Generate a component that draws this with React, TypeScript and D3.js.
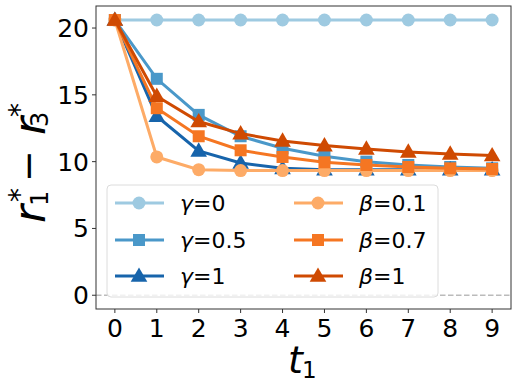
import React from 'react';
import * as d3 from 'd3';

const steps = [0, 1, 2, 3, 4, 5, 6, 7, 8, 9];
const gamma0 = [20.6, 20.6, 20.6, 20.6, 20.6, 20.6, 20.6, 20.6, 20.6, 20.6];
const gamma05 = [20.6, 16.2, 13.5, 11.9, 11.0, 10.4, 10.0, 9.75, 9.6, 9.5];
const gamma1 = [20.6, 13.4, 10.8, 9.9, 9.5, 9.4, 9.4, 9.4, 9.4, 9.4];
const beta01 = [20.6, 10.35, 9.4, 9.33, 9.33, 9.33, 9.33, 9.33, 9.33, 9.33];
const beta07 = [20.6, 14.0, 11.9, 10.85, 10.35, 9.95, 9.75, 9.6, 9.5, 9.45];
const beta1 = [20.6, 14.9, 13.0, 12.1, 11.55, 11.2, 10.95, 10.73, 10.58, 10.46];
const yTicks = [0, 5, 10, 15, 20];

const series = [
  { sym: 'γ', val: '0', values: gamma0, color: '#9ecae1', marker: 'circle' },
  { sym: 'γ', val: '0.5', values: gamma05, color: '#4a98c9', marker: 'square' },
  { sym: 'γ', val: '1', values: gamma1, color: '#1764ab', marker: 'triangle' },
  { sym: 'β', val: '0.1', values: beta01, color: '#fdab67', marker: 'circle' },
  { sym: 'β', val: '0.7', values: beta07, color: '#f57622', marker: 'square' },
  { sym: 'β', val: '1', values: beta1, color: '#cf4a02', marker: 'triangle' },
];

const W = 518;
const H = 388;
const left = 96, right = 511, top = 6, bottom = 309;
const font = 'DejaVu Sans, sans-serif';

function Marker({ type, x, y, color }: { type: string; x: number; y: number; color: string }) {
  if (type === 'circle') return <circle cx={x} cy={y} r={6.5} fill={color} />;
  if (type === 'square') return <rect x={x - 6} y={y - 6} width={12} height={12} fill={color} />;
  const sym = d3.symbol(d3.symbolTriangle, 120)();
  return <path d={sym as string} transform={`translate(${x},${y + 1})`} fill={color} />;
}

export default function App() {
  const x = d3.scaleLinear().domain([-0.45, 9.45]).range([left, right]);
  const y = d3.scaleLinear().domain([-1.03, 21.65]).range([bottom, top]);
  const line = d3.line<number>().x((_, i) => x(steps[i])).y(d => y(d));

  const legendRows = [203, 240, 276];
  const legendCols = [115, 294];

  return (
    <svg width={W} height={H} style={{ position: 'absolute', left: 0, top: 0 }}>
      <rect width={W} height={H} fill="#fff" />
      <line x1={left} x2={right} y1={y(0)} y2={y(0)} stroke="#bbbbbb" strokeWidth={1.5} strokeDasharray="5.5,2.5" />
      {series.map((s, k) => (
        <g key={k}>
          <path d={line(s.values) as string} fill="none" stroke={s.color} strokeWidth={3} />
          {s.values.map((v, i) => (
            <Marker key={i} type={s.marker} x={x(steps[i])} y={y(v)} color={s.color} />
          ))}
        </g>
      ))}
      {/* legend */}
      <rect x={107} y={185} width={331} height={112} rx={4} fill="#fff" fillOpacity={0.8} stroke="#dcdcdc" strokeWidth={1} />
      {series.map((s, k) => {
        const col = Math.floor(k / 3);
        const row = k % 3;
        const lx = legendCols[col];
        const ly = legendRows[row];
        return (
          <g key={k}>
            <line x1={lx} x2={lx + 49} y1={ly} y2={ly} stroke={s.color} strokeWidth={3} />
            <Marker type={s.marker} x={lx + 24} y={ly} color={s.color} />
            <text x={lx + 65} y={ly + 8} fontFamily={font} fontSize={22} fill="#000">
              <tspan fontStyle="italic">{s.sym}</tspan>={s.val}
            </text>
          </g>
        );
      })}
      {/* axes frame */}
      <rect x={left} y={top} width={right - left} height={bottom - top} fill="none" stroke="#333" strokeWidth={1} />
      {steps.map(t => (
        <g key={t}>
          <line x1={x(t)} x2={x(t)} y1={bottom} y2={bottom + 4} stroke="#333" />
          <text x={x(t)} y={337} textAnchor="middle" fontFamily={font} fontSize={25} fill="#000">{t}</text>
        </g>
      ))}
      {yTicks.map(t => (
        <g key={t}>
          <line x1={left - 4} x2={left} y1={y(t)} y2={y(t)} stroke="#333" />
          <text x={89} y={y(t) + 9} textAnchor="end" fontFamily={font} fontSize={25} fill="#000">{t}</text>
        </g>
      ))}
      {/* x label */}
      <g fontFamily={font} fill="#000">
        <text x={288} y={373} fontSize={38} fontStyle="italic">t</text>
        <text x={302} y={378} fontSize={23}>1</text>
      </g>
      {/* y label */}
      <g transform="translate(45,223) rotate(-90)" fontFamily={font} fill="#000">
        <text x={0} y={0} fontSize={44} fontStyle="italic">r</text>
        <text x={21} y={-16} fontSize={28}>*</text>
        <text x={17} y={3} fontSize={24}>1</text>
        <text x={41} y={-4} fontSize={38}>−</text>
        <text x={88} y={0} fontSize={44} fontStyle="italic">r</text>
        <text x={106} y={-16} fontSize={28}>*</text>
        <text x={96} y={3} fontSize={24}>3</text>
      </g>
    </svg>
  );
}
